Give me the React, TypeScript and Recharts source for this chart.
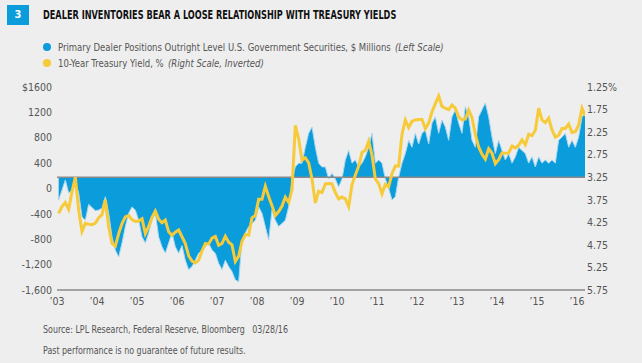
import { Area, ComposedChart, Line, ReferenceLine, XAxis, YAxis } from "recharts";

// monthly readings, Jan 2003 .. Mar 2016
const START_YEAR = 2003;

const dealerPositions = [
  -180, -25, 135, -70, -30, 90, -70, -450, -500, -250, -300, -350,
  -340, -310, -130, -390, -760, -970, -1080, -860, -600, -390, -290, -340,
  -500, -760, -860, -700, -500, -390, -760, -920, -1020, -860, -700, -920,
  -1020, -900, -1130, -1280, -1230, -1130, -1020, -970, -920, -860, -970, -1020,
  -1180, -1280, -1130, -1230, -1310, -1440, -1470, -810, -700, -600, -550, -500,
  -290, -390, -600, -810, -340, -500, -600, -550, -500, -290, 130, 340,
  400, 400, 650, 870, 970, 650, 400, 340, 340, 150, 240, 150,
  25, 150, 450, 600, 400, 450, 340, 400, 500, 650, 870, 400,
  450, 400, 150, 0, -180, -130, 180, 400, 550, 760, 650, 870,
  700, 870, 920, 700, 1030, 1130, 870, 1080, 970, 760, 1130, 1240,
  1030, 870, 1290, 1130, 760, 650, 1130, 1240, 1350, 1130, 810, 550,
  760, 600, 450, 550, 400, 500, 650, 600, 550, 400, 500, 340,
  500, 400, 450, 400, 450, 400, 760, 810, 870, 650, 760, 650,
  810, 1130, 1190,
];

const treasuryYield = [
  4.05, 3.9, 3.81, 3.96, 3.57, 3.25, 3.98, 4.45, 4.27, 4.29, 4.3, 4.27,
  4.15, 4.08, 3.75, 4.35, 4.72, 4.78, 4.5, 4.28, 4.13, 4.1, 4.19, 4.23,
  4.22, 4.17, 4.5, 4.34, 4.14, 4.0, 4.18, 4.26, 4.2, 4.46, 4.54, 4.47,
  4.42, 4.57, 4.72, 4.99, 5.11, 5.15, 5.09, 4.88, 4.72, 4.73, 4.6, 4.56,
  4.76, 4.72, 4.56, 4.69, 4.75, 5.12, 5.0, 4.67, 4.52, 4.53, 4.15, 4.1,
  3.74, 3.74, 3.45, 3.68, 3.88, 4.1, 4.01, 3.89, 3.69, 3.81, 3.53, 2.1,
  2.4, 2.87, 2.82, 2.93, 3.29, 3.82, 3.56, 3.59, 3.4, 3.39, 3.4, 3.59,
  3.73, 3.69, 3.73, 3.9, 3.42, 3.2, 3.01, 2.7, 2.65, 2.45, 2.76, 3.29,
  3.39, 3.62, 3.41, 3.46, 3.17, 3.0, 3.0, 2.3, 1.98, 2.15, 2.01, 1.98,
  1.97, 1.97, 2.17, 2.05, 1.8, 1.62, 1.45, 1.68, 1.72, 1.75, 1.65, 1.72,
  1.91, 1.98, 1.96, 1.76, 1.93, 2.3, 2.58, 2.74, 2.85, 2.62, 2.72, 2.95,
  2.86, 2.71, 2.72, 2.71, 2.56, 2.6, 2.54, 2.42, 2.53, 2.3, 2.33, 2.21,
  1.72, 1.98, 2.04, 1.94, 2.2, 2.36, 2.32, 2.17, 2.17, 2.07, 2.26, 2.24,
  2.09, 1.72, 1.89,
];

const yearTicks = [2003, 2004, 2005, 2006, 2007, 2008, 2009, 2010, 2011, 2012, 2013, 2014, 2015, 2016];
const leftTicks = [-1600, -1200, -800, -400, 0, 400, 800, 1200, 1600];
const leftTickLabels = ["-1,600", "-1,200", "-800", "-400", "0", "400", "800", "1200", "$1600"];
const rightTicks = [1.25, 1.75, 2.25, 2.75, 3.25, 3.75, 4.25, 4.75, 5.25, 5.75];
const rightTickLabels = ["1.25%", "1.75", "2.25", "2.75", "3.25", "3.75", "4.25", "4.75", "5.25", "5.75"];

const data = dealerPositions.map((dealer, i) => ({
  t: START_YEAR + i / 12 + 1 / 24,
  dealer,
  yield: treasuryYield[i],
}));

const BLUE = "#0a9cdb";
const YELLOW = "#f6ca38";
const GREY = "#8a8a8a";
const FONT = '"DejaVu Sans Condensed", "Roboto", sans-serif';

const tickStyle = { fill: "#555", fontSize: 10.5, fontFamily: FONT };

// the original face is a narrow gothic; squeeze the text horizontally
const narrow = (k: number) => ({
  display: "inline-block",
  transform: `scaleX(${k})`,
  transformOrigin: "left center",
  whiteSpace: "nowrap" as const,
});

export default function App() {
  return (
    <div
      style={{
        position: "absolute",
        left: 0,
        top: 0,
        width: 642,
        height: 363,
        background: "#eeeeee",
        fontFamily: FONT,
        overflow: "hidden",
      }}
    >
      <div
        style={{
          position: "absolute",
          left: 7,
          top: 5,
          width: 22,
          height: 20,
          background: BLUE,
          color: "#fff",
          fontWeight: 700,
          fontSize: 11,
          lineHeight: "20px",
          textAlign: "center",
        }}
      >
        3
      </div>
      <div style={{ position: "absolute", left: 43, top: 8, fontSize: 11.5, fontWeight: 700, color: "#111" }}>
        <span style={narrow(0.79)}>DEALER INVENTORIES BEAR A LOOSE RELATIONSHIP WITH TREASURY YIELDS</span>
      </div>

      {[
        { color: BLUE, text: "Primary Dealer Positions Outright Level U.S. Government Securities, $ Millions", note: "(Left Scale)", top: 40 },
        { color: YELLOW, text: "10-Year Treasury Yield, %", note: "(Right Scale, Inverted)", top: 56 },
      ].map((item) => (
        <div
          key={item.note}
          style={{
            position: "absolute",
            left: 43,
            top: item.top,
            height: 14,
            display: "flex",
            alignItems: "center",
            fontSize: 11,
            color: "#555",
            whiteSpace: "nowrap",
          }}
        >
          <span style={{ width: 8, height: 8, borderRadius: 4, background: item.color, marginRight: 7 }} />
          <span style={narrow(0.86)}>
            {item.text}
            <span style={{ fontStyle: "italic", marginLeft: 5 }}>{item.note}</span>
          </span>
        </div>
      ))}

      <div style={{ position: "absolute", left: 0, top: 0 }}>
        <ComposedChart width={642} height={363} data={data} margin={{ top: 87, right: 7, bottom: 53, left: 7 }}>
          <XAxis
            dataKey="t"
            type="number"
            domain={[2003, 2016.2]}
            allowDataOverflow
            ticks={yearTicks}
            tickFormatter={(v) => "\u2019" + String(v).slice(2)}
            height={20}
            tickLine={false}
            tickSize={0}
            tickMargin={8}
            axisLine={{ stroke: GREY, strokeWidth: 1.5 }}
            tick={tickStyle}
          />
          <YAxis
            yAxisId="left"
            domain={[-1600, 1600]}
            ticks={leftTicks}
            tickFormatter={(v) => leftTickLabels[leftTicks.indexOf(v)]}
            width={50}
            axisLine={false}
            tickLine={false}
            tickSize={0}
            tickMargin={5}
            tick={tickStyle}
            interval={0}
          />
          <YAxis
            yAxisId="right"
            orientation="right"
            reversed
            domain={[1.25, 5.75]}
            ticks={rightTicks}
            tickFormatter={(v) => rightTickLabels[rightTicks.indexOf(v)]}
            width={50}
            axisLine={false}
            tickLine={false}
            tickSize={0}
            tickMargin={2}
            tick={{ ...tickStyle, textAnchor: "start" }}
            interval={0}
          />
          <Area
            yAxisId="left"
            dataKey="dealer"
            type="linear"
            baseValue={181}
            fill={BLUE}
            fillOpacity={1}
            stroke="#a9d7ef"
            strokeWidth={1}
            isAnimationActive={false}
          />
          <ReferenceLine yAxisId="right" y={3.25} stroke={GREY} strokeWidth={1.5} />
          <Line
            yAxisId="right"
            dataKey="yield"
            type="linear"
            stroke={YELLOW}
            strokeWidth={3}
            dot={false}
            isAnimationActive={false}
          />
        </ComposedChart>
      </div>

      <div style={{ position: "absolute", left: 43, top: 323, fontSize: 10.5, color: "#555" }}>
        <span style={narrow(0.84)}>Source: LPL Research, Federal Reserve, Bloomberg&nbsp;&nbsp; 03/28/16</span>
      </div>
      <div style={{ position: "absolute", left: 43, top: 344, fontSize: 10.5, color: "#555" }}>
        <span style={narrow(0.84)}>Past performance is no guarantee of future results.</span>
      </div>
    </div>
  );
}
